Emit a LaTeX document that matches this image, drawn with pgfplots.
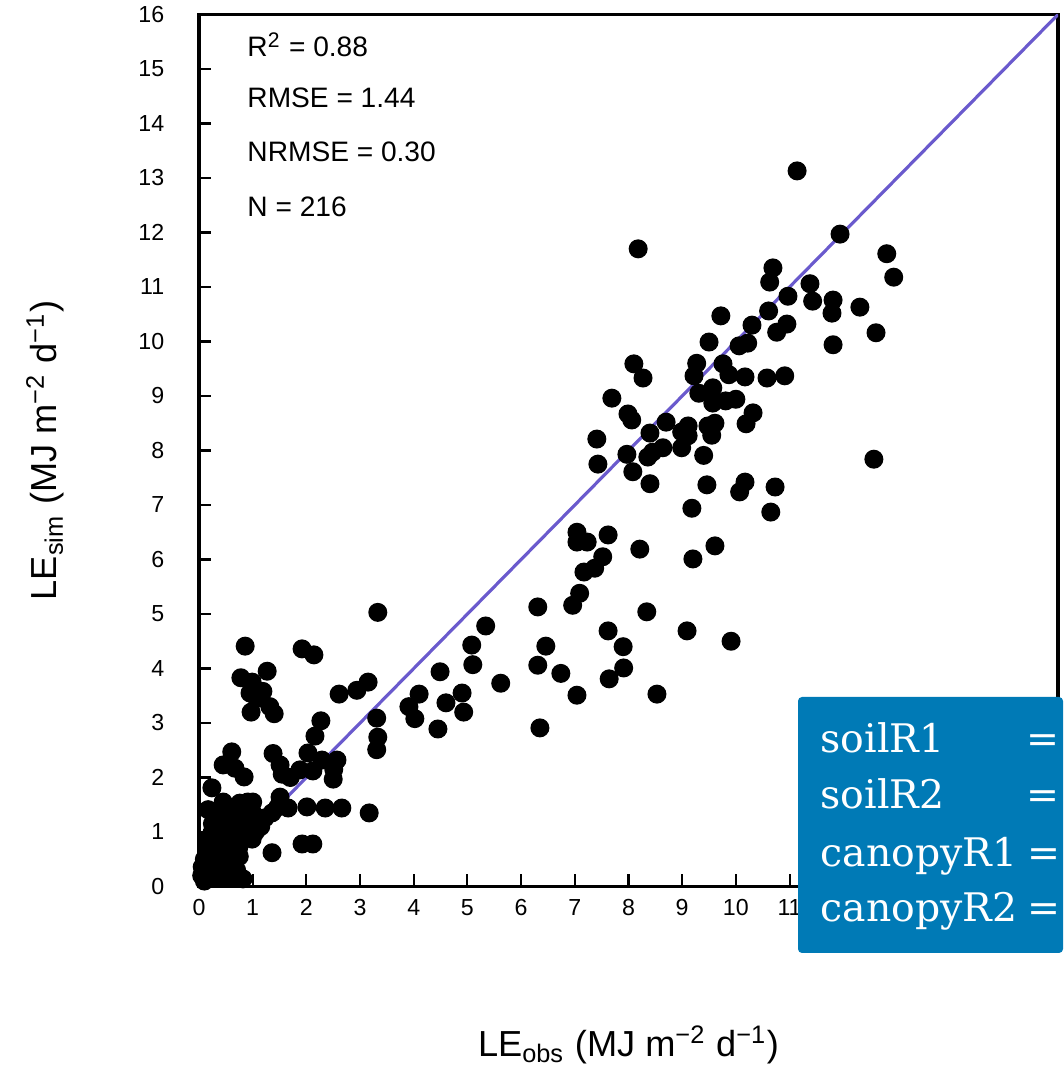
\documentclass[border=0pt]{standalone}
\usepackage{pgfplots}
\pgfplotsset{compat=1.18}
\usepackage{fontspec}
\setmainfont{Liberation Sans}
\newfontfamily\boxfont{DejaVu Serif}
\definecolor{oneline}{RGB}{106,90,205}
\definecolor{boxblue}{RGB}{0,122,182}
\begin{document}
\begin{tikzpicture}
\begin{axis}[
  name=ax, at={(0,0)}, anchor=south west,
  scale only axis, width=85.9mm, height=87.2mm,
  xmin=0, xmax=16, ymin=0, ymax=16,
  xtick={0,...,16}, ytick={0,...,16},
  xticklabels={0,1,2,3,4,5,6,7,8,9,10,11,{},{},{},{},{}},
  xtick pos=bottom, ytick pos=left,
  tick align=inside, major tick length=1.2mm,
  tick style={line width=0.6pt, black},
  axis line style={line width=0.9pt},
  /pgf/number format/assume math mode=true,
  ticklabel style={font=\fontsize{6.6}{7.5}\selectfont, inner sep=0pt},
  xticklabel style={anchor=north, yshift=-1.2mm},
  yticklabel style={anchor=east, xshift=-3.4mm},
  every axis x label/.style={at={(axis description cs:0.5,-0.182)}, anchor=center},
  every axis y label/.style={at={(axis description cs:-0.179,0.5)}, rotate=90, anchor=center},
  label style={font=\fontsize{10.3}{12}\selectfont},
  xlabel={LE\textsubscript{obs} (MJ m\textsuperscript{−2} d\textsuperscript{−1})},
  ylabel={LE\textsubscript{sim} (MJ m\textsuperscript{−2} d\textsuperscript{−1})},
]
\addplot[only marks, mark=*, mark size=2.5pt, black] coordinates {
(11.14,13.13) (11.94,11.97) (8.18,11.70) (12.81,11.61) (12.94,11.18)
(10.69,11.35) (10.63,11.09) (11.38,11.06) (11.43,10.74) (11.81,10.76)
(11.79,10.52) (12.31,10.63) (12.61,10.16) (11.81,9.94) (10.97,10.83)
(10.61,10.56) (10.95,10.32) (10.76,10.17) (10.30,10.30) (10.22,9.97)
(10.06,9.92) (9.72,10.47) (9.50,9.99) (9.27,9.60) (9.22,9.37)
(9.76,9.59) (9.87,9.39) (10.17,9.35) (10.58,9.33) (10.91,9.37)
(8.10,9.59) (8.27,9.33) (7.69,8.96) (7.99,8.67) (8.06,8.56)
(9.57,9.15) (9.31,9.05) (9.57,8.87) (9.81,8.91) (10.00,8.94)
(10.32,8.69) (10.19,8.49) (9.61,8.50) (9.48,8.45) (9.55,8.28)
(8.70,8.52) (9.11,8.45) (8.99,8.34) (9.11,8.27) (8.40,8.32)
(7.41,8.21) (7.43,7.75) (7.97,7.93) (8.36,7.88) (8.64,8.05)
(8.45,7.97) (8.99,8.05) (9.40,7.91) (8.08,7.61) (8.40,7.39)
(9.46,7.37) (10.17,7.42) (10.07,7.24) (10.73,7.33) (12.57,7.84)
(10.65,6.87) (9.18,6.94) (7.04,6.50) (7.04,6.32) (7.23,6.32)
(7.62,6.45) (8.21,6.19) (9.61,6.25) (9.20,6.01) (7.52,6.05)
(7.37,5.84) (7.17,5.77) (7.09,5.38) (6.96,5.16) (6.31,5.13)
(8.34,5.04) (5.34,4.78) (6.46,4.41) (7.62,4.69) (7.90,4.40)
(9.09,4.69) (9.91,4.50) (6.31,4.06) (6.74,3.91) (7.91,4.01)
(7.64,3.81) (5.62,3.73) (7.04,3.51) (8.53,3.53) (6.35,2.91)
(3.33,5.03) (1.92,4.36) (2.14,4.25) (5.08,4.43) (5.10,4.07)
(4.49,3.94) (4.90,3.55) (4.60,3.37) (4.93,3.20) (4.45,2.89)
(4.10,3.53) (3.91,3.30) (4.02,3.08) (3.15,3.75) (2.94,3.60)
(2.61,3.53) (3.31,3.09) (3.33,2.74) (3.31,2.51) (2.27,3.04)
(2.16,2.76) (2.03,2.45) (1.88,2.14) (2.12,2.12) (2.29,2.32)
(2.57,2.32) (2.51,2.15) (2.50,1.97) (2.01,1.46) (2.35,1.44)
(2.66,1.44) (3.17,1.35) (0.86,4.41) (1.27,3.95) (0.78,3.83)
(0.99,3.75) (1.19,3.58) (0.95,3.55) (1.08,3.45) (0.97,3.20)
(1.32,3.30) (1.40,3.17) (0.61,2.47) (1.38,2.44) (0.45,2.23)
(0.67,2.17) (0.84,2.01) (1.51,2.23) (1.55,2.06) (0.24,1.81)
(0.45,1.55) (0.17,1.41) (0.76,1.53) (0.91,1.55) (0.80,1.35)
(0.99,1.37) (1.51,1.64) (1.47,1.46) (1.36,1.35) (1.23,1.26)
(0.43,1.10) (0.71,1.03) (0.99,0.87) (0.74,0.71) (0.24,0.98)
(0.15,0.71) (0.34,0.43) (1.36,0.62) (1.92,0.78) (2.12,0.78)
(0.82,0.14) (0.45,0.36) (0.06,0.36) (1.70,2.00) (1.66,1.44)
(0.10,0.10) (0.20,0.20) (0.30,0.15) (0.15,0.55) (0.25,0.60)
(0.35,0.70) (0.40,0.55) (0.50,0.50) (0.55,0.70) (0.60,0.85)
(0.30,0.85) (0.40,0.95) (0.50,0.90) (0.60,1.00) (0.45,0.80)
(0.55,1.05) (0.65,0.95) (0.70,0.80) (0.80,0.90) (0.85,1.05)
(0.20,0.40) (0.30,0.30) (0.45,0.20) (0.55,0.30) (0.65,0.45)
(0.75,0.55) (0.60,0.65) (0.35,1.20) (0.50,1.25) (0.65,1.20)
(0.90,1.10) (1.05,1.00) (1.15,1.10) (0.95,0.95) (0.25,1.15)
(0.10,0.50) (0.40,1.40) (0.55,1.35) (0.70,1.30) (0.85,1.25)
(0.60,0.15) (0.70,0.30) (0.05,0.20) (0.15,0.85) (1.10,1.25)
(1.00,1.55)
};
\addplot[oneline, line width=0.9pt] coordinates {(0,0) (16,16)};
\node[anchor=base west, inner sep=0pt, font=\fontsize{8}{9}\selectfont] at (axis cs:0.89,15.22) {R\textsuperscript{2} = 0.88};
\node[anchor=base west, inner sep=0pt, font=\fontsize{8}{9}\selectfont] at (axis cs:0.89,14.29) {RMSE = 1.44};
\node[anchor=base west, inner sep=0pt, font=\fontsize{8}{9}\selectfont] at (axis cs:0.89,13.30) {NRMSE = 0.30};
\node[anchor=base west, inner sep=0pt, font=\fontsize{8}{9}\selectfont] at (axis cs:0.89,12.29) {N = 216};
\end{axis}
\fill[boxblue, rounded corners=0.4mm] (59.9mm,-6.65mm) rectangle (86.4mm,18.95mm);
\begin{scope}[every node/.style={anchor=base west, inner sep=0pt, text=white, font=\boxfont\fontsize{11.2}{13}\selectfont}]
\node at (62.1mm,13.35mm) {soilR1};
\node at (62.1mm,7.8mm) {soilR2};
\node at (62.1mm,1.95mm) {canopyR1};
\node at (62.1mm,-3.55mm) {canopyR2};
\node at (82.7mm,13.35mm) {=};
\node at (82.7mm,7.8mm) {=};
\node at (82.8mm,1.95mm) {=};
\node at (82.8mm,-3.55mm) {=};
\end{scope}
\pgfresetboundingbox
\path (-19.9mm,-17.95mm) rectangle (86.4mm,88.65mm);
\end{tikzpicture}
\end{document}
